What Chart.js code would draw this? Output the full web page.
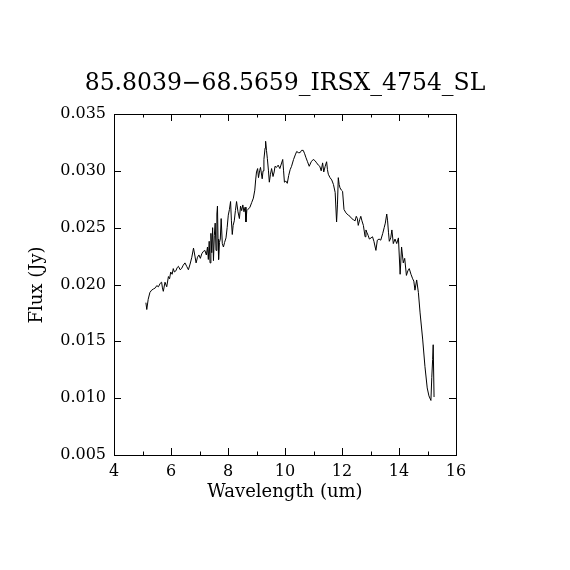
<!DOCTYPE html>
<html>
<head>
<meta charset="utf-8">
<script src="https://cdn.jsdelivr.net/npm/chart.js@4"></script>
<style>
  html, body { margin: 0; padding: 0; background: #fff; }
  #wrap { width: 570px; height: 570px; }
</style>
</head>
<body>
<div id="wrap"><canvas id="myChart" width="570" height="570"></canvas></div>
<script>
const titleText = '85.8039\u221268.5659_IRSX_4754_SL'
const xLabel = 'Wavelength (um)'
const yLabel = 'Flux (Jy)'

const wavelength = [
  5.12, 5.15, 5.20, 5.26, 5.32, 5.38, 5.45, 5.50, 5.56, 5.62, 5.67, 5.70, 5.73, 5.79, 5.85, 5.91, 5.95, 5.99,
  6.04, 6.08, 6.12, 6.17, 6.22, 6.26, 6.32, 6.37, 6.43, 6.49, 6.55, 6.61, 6.67, 6.73, 6.79, 6.84, 6.88, 6.93, 6.98,
  7.03, 7.08, 7.13, 7.19, 7.24, 7.28, 7.31, 7.34, 7.37, 7.40, 7.43, 7.46, 7.49, 7.52, 7.55, 7.58, 7.61, 7.63, 7.65,
  7.67, 7.70, 7.73, 7.76, 7.80, 7.84, 7.88, 7.93, 7.97, 8.01, 8.05, 8.09, 8.12, 8.15, 8.18, 8.22, 8.26, 8.30, 8.35,
  8.40, 8.44, 8.48, 8.52, 8.56, 8.60, 8.63, 8.66, 8.70, 8.77, 8.83, 8.89, 8.94, 8.97, 9.00, 9.04, 9.07, 9.11, 9.14,
  9.20, 9.23, 9.26, 9.30, 9.32, 9.35, 9.38, 9.42, 9.45, 9.49, 9.53, 9.58, 9.62, 9.65, 9.70, 9.76, 9.82, 9.87, 9.92,
  9.95, 9.98, 10.03, 10.08, 10.13, 10.18, 10.23, 10.30, 10.36, 10.41, 10.47, 10.53, 10.58, 10.64, 10.69, 10.73,
  10.79, 10.85, 10.92, 10.99, 11.05, 11.11, 11.17, 11.22, 11.27, 11.32, 11.36, 11.41, 11.46, 11.49, 11.52, 11.58,
  11.64, 11.70, 11.76, 11.81, 11.84, 11.87, 11.90, 11.93, 11.98, 12.02, 12.07, 12.14, 12.22, 12.28, 12.34, 12.40,
  12.46, 12.50, 12.54, 12.57, 12.62, 12.66, 12.70, 12.75, 12.81, 12.84, 12.87, 12.92, 12.96, 13.02, 13.07, 13.12,
  13.19, 13.24, 13.30, 13.36, 13.43, 13.48, 13.52, 13.57, 13.60, 13.63, 13.66, 13.71, 13.75, 13.80, 13.86, 13.92,
  13.98, 14.04, 14.09, 14.15, 14.20, 14.26, 14.31, 14.36, 14.42, 14.48, 14.52, 14.56, 14.62, 14.68, 14.74, 14.83,
  14.91, 14.99, 15.05, 15.12, 15.15, 15.18, 15.20, 15.23
]

const flux = [
  0.0184, 0.0178, 0.0187, 0.0193, 0.0195, 0.0196, 0.0197, 0.0199, 0.0198, 0.0201, 0.0202, 0.0197, 0.0194, 0.0202, 0.0198, 0.0207, 0.0205, 0.0211,
  0.0209, 0.0214, 0.0211, 0.0212, 0.0215, 0.0216, 0.0213, 0.0214, 0.0217, 0.0219, 0.0216, 0.0213, 0.0218, 0.0224, 0.0232, 0.0225, 0.0219, 0.0224, 0.0226,
  0.0223, 0.0227, 0.0229, 0.0230, 0.0226, 0.0233, 0.0222, 0.0238, 0.0219, 0.0245, 0.0228, 0.0250, 0.0221, 0.0243, 0.0254, 0.0230, 0.0262, 0.0269, 0.0240,
  0.0222, 0.0237, 0.0240, 0.0258, 0.0236, 0.0233, 0.0237, 0.0241, 0.0250, 0.0261, 0.0266, 0.0273, 0.0256, 0.0244, 0.0252, 0.0256, 0.0265, 0.0273, 0.0264,
  0.0258, 0.0269, 0.0265, 0.0270, 0.0264, 0.0268, 0.0255, 0.0265, 0.0266, 0.0268, 0.0272, 0.0276, 0.0283, 0.0292, 0.0299, 0.0302, 0.0294, 0.0300, 0.0303,
  0.0293, 0.0300, 0.0310, 0.0320, 0.0326, 0.0318, 0.0311, 0.0300, 0.0290, 0.0297, 0.0302, 0.0295, 0.0299, 0.0304, 0.0303, 0.0305, 0.0302, 0.0306, 0.0310,
  0.0300, 0.0290, 0.0291, 0.0289, 0.0296, 0.0301, 0.0304, 0.0310, 0.0314, 0.0317, 0.0316, 0.0316, 0.0318, 0.0318, 0.0315, 0.0312,
  0.0308, 0.0304, 0.0308, 0.0310, 0.0309, 0.0307, 0.0305, 0.0304, 0.0300, 0.0307, 0.0299, 0.0304, 0.0308, 0.0301, 0.0297, 0.0294,
  0.0292, 0.0288, 0.0281, 0.0255, 0.0270, 0.0294, 0.0288, 0.0285, 0.0283, 0.0282, 0.0266, 0.0263, 0.0261, 0.0260, 0.0258, 0.0257,
  0.0256, 0.0260, 0.0258, 0.0252, 0.0257, 0.0260, 0.0256, 0.0252, 0.0242, 0.0248, 0.0246, 0.0243, 0.0240, 0.0241, 0.0242, 0.0238,
  0.0230, 0.0239, 0.0240, 0.0239, 0.0245, 0.0250, 0.0254, 0.0262, 0.0256, 0.0246, 0.0238, 0.0241, 0.0248, 0.0236, 0.0240, 0.0236,
  0.0241, 0.0209, 0.0233, 0.0219, 0.0223, 0.0208, 0.0212, 0.0214, 0.0209, 0.0205, 0.0203, 0.0195, 0.0204, 0.0193, 0.0175, 0.0152,
  0.0128, 0.0109, 0.0102, 0.0098, 0.0118, 0.0134, 0.0147, 0.0101
]

const xTicks = [4, 6, 8, 10, 12, 14, 16]
const yTicks = [0.005, 0.010, 0.015, 0.020, 0.025, 0.030, 0.035]

const serif = '"DejaVu Serif", "Liberation Serif", serif'

// box, inward ticks on all four sides, title and axis labels
const framePlugin = {
  id: 'frame',
  afterDraw(chart) {
    const { ctx, chartArea: a, scales: { x, y } } = chart
    ctx.save()
    ctx.strokeStyle = '#000'
    ctx.lineWidth = 1
    ctx.strokeRect(Math.round(a.left) + 0.5, Math.round(a.top) + 0.5,
      Math.round(a.right - a.left), Math.round(a.bottom - a.top))
    ctx.beginPath()
    for (let v = 4; v <= 16; v += 1) {
      const px = Math.round(x.getPixelForValue(v)) + 0.5
      const len = v % 2 === 0 ? 7 : 3.5
      ctx.moveTo(px, a.bottom); ctx.lineTo(px, a.bottom - len)
      ctx.moveTo(px, a.top); ctx.lineTo(px, a.top + len)
    }
    yTicks.forEach(v => {
      const py = Math.round(y.getPixelForValue(v)) + 0.5
      ctx.moveTo(a.left, py); ctx.lineTo(a.left + 7, py)
      ctx.moveTo(a.right, py); ctx.lineTo(a.right - 7, py)
    })
    ctx.stroke()

    ctx.fillStyle = '#000'
    ctx.textAlign = 'center'
    ctx.textBaseline = 'middle'
    ctx.font = '23.5px ' + serif
    ctx.fillText(titleText, 285, 84)
    ctx.font = '18px ' + serif
    ctx.fillText(xLabel, 285, 492)
    ctx.translate(37, 285)
    ctx.rotate(-Math.PI / 2)
    ctx.fillText(yLabel, 0, 0)
    ctx.restore()
  }
}

const ctx = document.getElementById('myChart')
// eslint-disable-next-line no-unused-vars
const myChart = new Chart(ctx, {
  type: 'line',
  data: {
    datasets: [{
      data: wavelength.map((w, i) => ({ x: w, y: flux[i] })),
      borderColor: '#000',
      borderWidth: 1,
      pointRadius: 0,
      tension: 0,
      fill: false
    }]
  },
  options: {
    responsive: false,
    animation: false,
    layout: { padding: { left: 0, top: 114, right: 114, bottom: 65 } },
    plugins: {
      legend: { display: false },
      tooltip: { enabled: false }
    },
    scales: {
      x: {
        type: 'linear',
        min: 4,
        max: 16,
        afterBuildTicks: s => { s.ticks = xTicks.map(v => ({ value: v })) },
        afterFit: s => { s.height = 50 },
        grid: { display: false, drawTicks: false },
        border: { display: false },
        ticks: { color: '#000', padding: 7, maxRotation: 0, font: { family: serif, size: 16 } }
      },
      y: {
        type: 'linear',
        min: 0.005,
        max: 0.035,
        afterBuildTicks: s => { s.ticks = yTicks.map(v => ({ value: v })) },
        afterFit: s => { s.width = 114 },
        grid: { display: false, drawTicks: false },
        border: { display: false },
        ticks: {
          color: '#000',
          padding: 8,
          font: { family: serif, size: 16 },
          callback: v => v.toFixed(3)
        }
      }
    }
  },
  plugins: [framePlugin]
})
</script>
</body>
</html>
